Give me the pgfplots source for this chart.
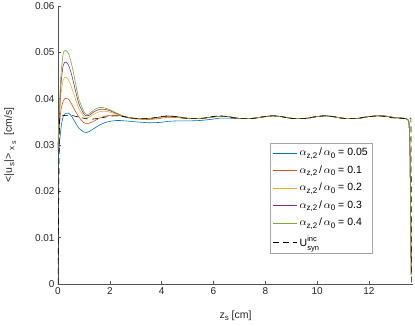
\documentclass[border=0pt]{standalone}
\usepackage{fontspec}
\setmainfont{Liberation Sans}
\usepackage{pgfplots}
\pgfplotsset{compat=1.18}
\definecolor{mb}{rgb}{0,0.447,0.741}
\definecolor{mo}{rgb}{0.85,0.325,0.098}
\definecolor{my}{rgb}{0.929,0.694,0.125}
\definecolor{mp}{rgb}{0.494,0.184,0.556}
\definecolor{mg}{rgb}{0.466,0.674,0.188}
\definecolor{ax}{rgb}{0.15,0.15,0.15}
\newcommand{\sub}[1]{\raisebox{-0.45ex}{\fontsize{8}{9}\selectfont #1}}
\newcommand{\al}[1]{$\alpha$\sub{z,2}\,/\,$\alpha$\sub{0} = #1}
\begin{document}
\begin{tikzpicture}[x=1pt,y=1pt]
\begin{axis}[
  scale only axis, width=355pt, height=278pt,
  xmin=0, xmax=13.7, ymin=0, ymax=0.06,
  axis x line*=bottom, axis y line*=left,
  axis line style={ax!80, line width=0.5pt},
  tick style={ax!80, line width=0.5pt},
  major tick length=3pt, tick align=inside,
  xtick={0,2,4,6,8,10,12},
  ytick={0,0.01,0.02,0.03,0.04,0.05,0.06},
  yticklabels={0,0.01,0.02,0.03,0.04,0.05,0.06},
  scaled y ticks=false,
  /pgf/number format/assume math mode=true,
  tick label style={font=\fontsize{10}{12}\selectfont, text=ax},
  label style={font=\fontsize{10.5}{12}\selectfont, text=ax},
  xlabel={z\sub{s} [cm]},
  ylabel={<|u\,\sub{s}|>\,\sub{\,x\,\raisebox{-0.4ex}{\fontsize{7}{8}\selectfont s}}\ \ [cm/s]},
  xlabel style={yshift=-9pt},
  ylabel style={yshift=12pt},
  legend style={at={(rel axis cs:0.597,0.507)}, anchor=north west, draw=gray!70, line width=0.5pt,
    font=\fontsize{10.5}{12}\selectfont, row sep=4.4pt, inner xsep=3pt, inner ysep=3pt, cells={anchor=west}},
  legend cell align=left,
  legend image post style={xscale=1.4},
  every axis plot/.append style={line width=0.6pt, smooth, tension=0.4},
]
\addplot[mb] coordinates {
(0,0.026) (0.1,0.033) (0.2,0.0362) (0.3,0.0368) (0.4,0.0369) (0.5,0.0364) (0.6,0.0355) (0.8,0.0337)
(1.0,0.0328) (1.1,0.0327) (1.2,0.0329) (1.4,0.0336) (1.6,0.0343) (1.8,0.0348) (2.0,0.0351) (2.3,0.0353)
(2.6,0.0352) (3.0,0.0350) (3.5,0.0348) (4.0,0.0349) (4.25,0.0351) (4.6,0.0352) (5.0,0.0352) (5.5,0.0353)
(6.0,0.0356) (6.25,0.0358) (6.6,0.0358) (6.9,0.0357) (7.25,0.0357) (7.6,0.0358) (7.95,0.0361)
(8.3,0.0363) (8.65,0.0361) (8.95,0.0358) (9.3,0.0357) (9.65,0.0358) (9.95,0.0361) (10.3,0.0363)
(10.65,0.0361) (10.95,0.0358) (11.3,0.0357) (11.65,0.0358) (11.95,0.0361) (12.35,0.0363) (12.7,0.0362)
(13.0,0.0359) (13.3,0.0358) (13.45,0.0356) (13.54,0.0350) (13.58,0.030) (13.61,0.015) (13.63,0.002)
};
\addlegendentry{\al{0.05}}
\addplot[mo] coordinates {
(0,0.029) (0.1,0.037) (0.2,0.0395) (0.3,0.0401) (0.4,0.0399) (0.5,0.0391) (0.6,0.0380) (0.8,0.0361)
(1.0,0.0348) (1.1,0.0346) (1.2,0.0347) (1.4,0.0352) (1.6,0.0358) (1.8,0.0362) (2.0,0.0364) (2.3,0.0364)
(2.6,0.0361) (3.0,0.0357) (3.5,0.0355) (4.0,0.0358) (4.25,0.0360) (4.6,0.0359) (5.0,0.0357) (5.5,0.0357)
(5.9,0.0360) (6.25,0.0362) (6.6,0.0361) (6.9,0.0358) (7.25,0.0357) (7.6,0.0358) (7.95,0.0361)
(8.3,0.0363) (8.65,0.0361) (8.95,0.0358) (9.3,0.0357) (9.65,0.0358) (9.95,0.0361) (10.3,0.0363)
(10.65,0.0361) (10.95,0.0358) (11.3,0.0357) (11.65,0.0358) (11.95,0.0361) (12.35,0.0363) (12.7,0.0362)
(13.0,0.0359) (13.3,0.0358) (13.45,0.0356) (13.54,0.0350) (13.58,0.030) (13.61,0.015) (13.63,0.002)
};
\addlegendentry{\al{0.1}}
\addplot[my] coordinates {
(0,0.029) (0.1,0.040) (0.2,0.0441) (0.3,0.0446) (0.4,0.0441) (0.5,0.0428) (0.6,0.0412) (0.8,0.0379)
(1.0,0.0362) (1.1,0.0359) (1.2,0.0360) (1.4,0.0367) (1.6,0.0372) (1.8,0.0373) (2.0,0.0371) (2.3,0.0366)
(2.6,0.0360) (3.0,0.0356) (3.5,0.0356) (4.0,0.0360) (4.25,0.0362) (4.6,0.0360) (5.0,0.0357) (5.5,0.0357)
(5.9,0.0360) (6.25,0.0362) (6.6,0.0361) (6.9,0.0358) (7.25,0.0357) (7.6,0.0358) (7.95,0.0361)
(8.3,0.0363) (8.65,0.0361) (8.95,0.0358) (9.3,0.0357) (9.65,0.0358) (9.95,0.0361) (10.3,0.0363)
(10.65,0.0361) (10.95,0.0358) (11.3,0.0357) (11.65,0.0358) (11.95,0.0361) (12.35,0.0363) (12.7,0.0362)
(13.0,0.0359) (13.3,0.0358) (13.45,0.0356) (13.54,0.0350) (13.58,0.030) (13.61,0.015) (13.63,0.002)
};
\addlegendentry{\al{0.2}}
\addplot[mp] coordinates {
(0,0.029) (0.1,0.042) (0.2,0.0472) (0.3,0.0479) (0.4,0.0473) (0.5,0.0457) (0.6,0.0435) (0.8,0.0390)
(1.0,0.0367) (1.1,0.0363) (1.2,0.0364) (1.4,0.0372) (1.6,0.0377) (1.8,0.0377) (2.0,0.0374) (2.3,0.0367)
(2.6,0.0360) (3.0,0.0357) (3.5,0.0357) (4.0,0.0361) (4.25,0.0362) (4.6,0.0361) (5.0,0.0358) (5.5,0.0357)
(5.9,0.0360) (6.25,0.0362) (6.6,0.0361) (6.9,0.0358) (7.25,0.0357) (7.6,0.0358) (7.95,0.0361)
(8.3,0.0363) (8.65,0.0361) (8.95,0.0358) (9.3,0.0357) (9.65,0.0358) (9.95,0.0361) (10.3,0.0363)
(10.65,0.0361) (10.95,0.0358) (11.3,0.0357) (11.65,0.0358) (11.95,0.0361) (12.35,0.0363) (12.7,0.0362)
(13.0,0.0359) (13.3,0.0358) (13.45,0.0356) (13.54,0.0350) (13.58,0.030) (13.61,0.015) (13.63,0.002)
};
\addlegendentry{\al{0.3}}
\addplot[mg] coordinates {
(0,0.030) (0.1,0.044) (0.2,0.0497) (0.3,0.0504) (0.4,0.0498) (0.5,0.0480) (0.6,0.0455) (0.8,0.0400)
(1.0,0.0372) (1.1,0.0366) (1.2,0.0367) (1.4,0.0376) (1.6,0.0381) (1.8,0.0380) (2.0,0.0376) (2.3,0.0368)
(2.6,0.0361) (3.0,0.0357) (3.5,0.0357) (4.0,0.0361) (4.25,0.0363) (4.6,0.0361) (5.0,0.0358) (5.5,0.0357)
(5.9,0.0360) (6.25,0.0362) (6.6,0.0361) (6.9,0.0358) (7.25,0.0357) (7.6,0.0358) (7.95,0.0361)
(8.3,0.0363) (8.65,0.0361) (8.95,0.0358) (9.3,0.0357) (9.65,0.0358) (9.95,0.0361) (10.3,0.0363)
(10.65,0.0361) (10.95,0.0358) (11.3,0.0357) (11.65,0.0358) (11.95,0.0361) (12.35,0.0363) (12.7,0.0362)
(13.0,0.0359) (13.3,0.0358) (13.45,0.0356) (13.54,0.0350) (13.58,0.030) (13.61,0.015) (13.63,0.002)
};
\addlegendentry{\al{0.4}}
\addplot[black, dash pattern=on 6pt off 4pt, sharp plot] coordinates {
(0,0) (0.03,0.020) (0.06,0.0355) (0.1,0.0363) (0.3,0.0364) (0.45,0.0364) (0.6,0.0363) (0.75,0.0361) (0.9,0.0359) (1.05,0.0357) (1.2,0.0356)
(1.35,0.0356) (1.5,0.0357) (1.65,0.0358) (1.8,0.0360) (2.0,0.0362) (2.2,0.0363) (2.4,0.0362) (2.6,0.0361) (2.75,0.0359) (2.9,0.0358)
(3.05,0.0357) (3.2,0.0357) (3.4,0.0357) (3.6,0.0358) (3.75,0.0359) (3.9,0.0361) (4.05,0.0362)
(4.25,0.0363) (4.45,0.0362) (4.6,0.0361) (4.75,0.0359) (4.9,0.0358) (5.05,0.0357) (5.2,0.0357) (5.4,0.0357)
(5.6,0.0358) (5.75,0.0359) (5.9,0.0361) (6.05,0.0362) (6.25,0.0363) (6.45,0.0362)
(6.6,0.0361) (6.75,0.0359) (6.9,0.0358) (7.05,0.0357) (7.25,0.0357) (7.45,0.0357) (7.6,0.0358) (7.8,0.0360) (7.95,0.0361) (8.1,0.0362) (8.3,0.0363) (8.5,0.0362) (8.65,0.0361)
(8.8,0.0359) (8.95,0.0358) (9.1,0.0357) (9.3,0.0357) (9.5,0.0357) (9.65,0.0358) (9.8,0.0360) (9.95,0.0361) (10.1,0.0362) (10.3,0.0363) (10.5,0.0362) (10.65,0.0361) (10.8,0.0359) (10.95,0.0358)
(11.1,0.0357) (11.3,0.0357) (11.5,0.0357) (11.65,0.0358) (11.8,0.0360) (11.95,0.0361) (12.15,0.0362) (12.35,0.0363) (12.55,0.0362) (12.7,0.0361) (12.85,0.0359) (13.0,0.0358) (13.15,0.0357) (13.3,0.0357)
(13.5,0.0358) (13.62,0.0358) (13.63,0.025) (13.64,0)
};
\addlegendentry{U\rlap{\raisebox{1.0ex}{\fontsize{7.5}{8}\selectfont inc}}\raisebox{-0.75ex}{\fontsize{7.5}{8}\selectfont syn}}
\end{axis}
\pgfresetboundingbox
\path (-58pt,-41pt) rectangle (357pt,284pt);
\end{tikzpicture}
\end{document}
